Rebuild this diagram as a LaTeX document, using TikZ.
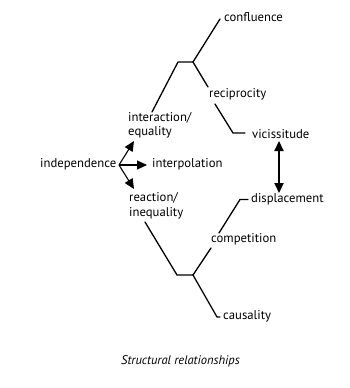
\documentclass[tikz,border=0pt]{standalone}
\usepackage{fontspec}
\setmainfont{PT Sans}
\usetikzlibrary{arrows.meta}
\begin{document}
\begin{tikzpicture}[x=1pt,y=-1pt,
  lbl/.style={inner sep=0pt,anchor=west,font=\fontsize{12.7}{14.5}\selectfont},
  ln/.style={line width=1.3pt,line cap=round,line join=round},
  arr/.style={line width=1.1pt,-{Triangle[length=10pt,width=9pt]}},
  dbl/.style={line width=2.2pt,{Triangle[length=10pt,width=9pt]}-{Triangle[length=10pt,width=9pt]}}]
\useasboundingbox (0,0) rectangle (350,388);
% labels
\node[lbl] (conf) at (224,17) {confluence};
\node[lbl] (reci) at (209,94) {reciprocity};
\node[lbl] (vici) at (252,134) {vicissitude};
\node[lbl,align=left] (inter) at (128,125.5) {interaction/\\equality};
\node[lbl] (indep) at (40,164) {independence};
\node[lbl] (interp) at (152,164) {interpolation};
\node[lbl,align=left] (react) at (129,206) {reaction/\\inequality};
\node[lbl] (disp) at (251,199) {displacement};
\node[lbl] (comp) at (211,239) {competition};
\node[lbl] (caus) at (223,316) {causality};
\node[inner sep=0pt,font=\fontsize{12.5}{14}\selectfont\itshape] (cap) at (180.5,361) {Structural relationships};
% junction coordinates
\coordinate (cA) at (220,19);
\coordinate (j1) at (193,62);
\coordinate (j1l) at (178,62);
\coordinate (iA) at (152,112);
\coordinate (rA) at (208,87);
\coordinate (rB) at (215,104);
\coordinate (vB) at (233,133);
\coordinate (vA) at (245,133);
\coordinate (dA) at (248,199.5);
\coordinate (dB) at (240,199.5);
\coordinate (cB) at (219,233);
\coordinate (eA) at (145,222);
\coordinate (j2l) at (177,275);
\coordinate (j2) at (193,275);
\coordinate (cC) at (211,248);
\coordinate (sB) at (217,317);
\coordinate (sA) at (220,317);
\coordinate (o) at (119,165);
\coordinate (up) at (134,141);
\coordinate (rt) at (147,165);
\coordinate (dn) at (134,189);
\coordinate (vv) at (279,141);
\coordinate (dd) at (279,193);
% connectors
\draw[ln] (cA) -- (j1) -- (j1l) -- (iA);
\draw[ln] (j1) -- (rA);
\draw[ln] (rB) -- (vB) -- (vA);
\draw[ln] (dA) -- (dB) -- (cB);
\draw[ln] (eA) -- (j2l) -- (j2) -- (cC);
\draw[ln] (j2) -- (sB) -- (sA);
\draw[arr] (o) -- (up);
\draw[arr] (o) -- (rt);
\draw[arr] (o) -- (dn);
\draw[dbl] (vv) -- (dd);
\end{tikzpicture}
\end{document}
